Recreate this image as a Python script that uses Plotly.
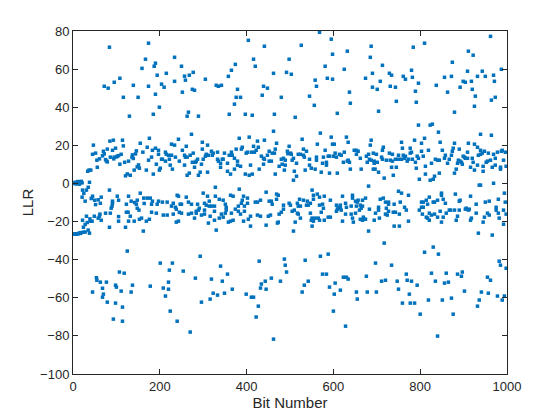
import plotly.graph_objects as go

# (bit number, LLR) readings, grouped by segment of the x-axis
frozen_zero = [(1, 0.0), (3, 0.2), (5, 0.6), (7, -0.3), (9, 0.5), (11, 1.0), (13, 0.0),
               (15, -0.4), (17, 0.8), (19, 1.1), (21, 0.3), (38, 0.6)]
frozen_neg = [(1, -26.6), (3, -26.6), (5, -26.5), (7, -26.6), (9, -26.5), (11, -26.4),
              (13, -26.3), (15, -26.0), (17, -26.2), (19, -25.8), (24, -25.6), (28, -25.5)]

seg1 = [(84, 71.5), (159, 60.4), (139, 51.5), (108, 55.2), (95, 53.1), (72, 51.0), (81, 50.0),
        (116, 45.2), (150, 45.2), (130, 35.3),
        (85, 22.2), (93, 22.7), (114, 22.7), (47, 20.1), (155, 21.1), (116, 19.7), (98, 18.5),
        (79, 18.0), (70, 16.9), (91, 17.4), (52, 15.9), (45, 15.3), (72, 15.5), (111, 15.3),
        (105, 14.6), (137, 15.0), (144, 15.5), (161, 16.4), (146, 17.1), (68, 14.5), (86, 13.8),
        (100, 13.9), (102, 14.3), (95, 13.8), (61, 12.9), (55, 12.2), (75, 12.5), (79, 11.3),
        (77, 11.8), (94, 12.9), (136, 13.8), (139, 13.1), (128, 11.7), (119, 11.1), (108, 10.1),
        (56, 8.5), (148, 8.7), (151, 9.7), (153, 8.0), (141, 7.0), (34, 6.4), (37, 7.0), (41, 7.0),
        (121, 4.0), (125, 5.0), (132, 4.3),
        (22, -3.5), (84, -3.5), (35, -2.0), (31, -3.5), (25, -5.2), (21, -7.2), (28, -9.3),
        (45, -6.7), (42, -7.9), (65, -7.2), (58, -8.6), (50, -8.8), (63, -10.4), (52, -11.1),
        (102, -6.7), (128, -6.7), (155, -5.1), (163, -7.7), (105, -8.8), (91, -9.3), (134, -9.3),
        (142, -10.0), (148, -8.8), (91, -10.5), (123, -10.9), (146, -10.9), (164, -10.5),
        (90, -11.9), (88, -13.0), (148, -13.0), (152, -14.0), (127, -15.1), (123, -15.1),
        (62, -16.1), (75, -15.6), (86, -15.6), (31, -17.2), (49, -17.2), (61, -17.2), (105, -17.4),
        (132, -17.2), (39, -18.6), (44, -19.8), (40, -19.8), (58, -18.2), (65, -19.3), (22, -19.3),
        (105, -19.8), (128, -19.8), (141, -19.8), (153, -18.8), (158, -18.2), (33, -20.5),
        (28, -21.5), (24, -23.0), (84, -23.0), (121, -23.0), (35, -24.5), (162, -25.0),
        (38, -26.1), (125, -35.5),
        (107, -46.5), (118, -47.1), (54, -49.5), (55, -50.8), (63, -51.8), (77, -51.8),
        (98, -53.4), (100, -54.4), (137, -53.4), (68, -55.0), (111, -56.5), (134, -57.0),
        (45, -57.0), (70, -58.1), (68, -59.7), (79, -62.3), (98, -62.8), (114, -64.9),
        (93, -71.2), (114, -72.3)]

seg2 = [(174, 73.6), (167, 65.2), (234, 66.2), (187, 61.5), (190, 63.1), (250, 61.5), (194, 56.8),
        (215, 57.8), (268, 56.8), (257, 56.3), (277, 58.3), (259, 54.2), (234, 53.6), (204, 52.1),
        (210, 50.5), (174, 51.0), (305, 54.7), (275, 49.4), (280, 48.9), (252, 47.9), (190, 46.8),
        (330, 51.5), (335, 51.0), (342, 51.5), (199, 40.0), (185, 36.3), (266, 37.4), (263, 35.3),
        (289, 35.3),
        (273, 25.8), (176, 23.7), (243, 23.2), (298, 21.6), (227, 20.6), (234, 20.1), (310, 20.1),
        (261, 19.5), (171, 19.0), (190, 18.5), (183, 17.4), (197, 17.4), (213, 16.4), (298, 18.0),
        (252, 17.4), (319, 16.9), (333, 16.4), (323, 15.9), (197, 15.3), (215, 15.3), (220, 14.8),
        (227, 14.8), (257, 14.8), (270, 14.8), (277, 15.9), (307, 15.3), (312, 14.8), (321, 14.8),
        (181, 13.8), (236, 13.8), (259, 13.8), (263, 13.8), (305, 14.3), (174, 12.2), (204, 12.7),
        (206, 12.7), (222, 12.7), (245, 11.7), (287, 12.7), (300, 12.7), (333, 12.7), (344, 12.7),
        (213, 11.7), (275, 11.1), (282, 11.1), (284, 11.7), (335, 11.7), (340, 10.6), (192, 10.1),
        (257, 9.6), (224, 9.6), (296, 10.1), (169, 7.0), (201, 8.0), (199, 7.0), (229, 7.5),
        (280, 8.5), (340, 8.5), (310, 5.9), (185, 4.9), (268, 5.4), (263, 4.3), (289, 4.3),
        (293, 5.9),
        (328, -2.0), (300, -5.1), (240, -6.2), (243, -6.7), (310, -6.7), (328, -6.7), (261, -7.2),
        (171, -7.7), (178, -7.7), (337, -8.3), (183, -9.3), (197, -9.3), (206, -9.8), (217, -9.8),
        (231, -10.4), (266, -9.8), (314, -9.3), (303, -10.4), (194, -10.9), (181, -10.9),
        (247, -10.9), (250, -10.9), (273, -10.9), (287, -10.9), (307, -11.4), (227, -11.9),
        (236, -12.5), (238, -13.5), (291, -13.0), (289, -14.0), (284, -14.6), (303, -14.0),
        (314, -11.9), (319, -11.9), (326, -11.9), (326, -14.6), (342, -16.1), (181, -15.1),
        (192, -15.6), (245, -15.1), (250, -15.6), (266, -16.1), (273, -15.6), (284, -15.6),
        (296, -16.6), (303, -16.1), (316, -17.2), (337, -18.2), (208, -16.6), (217, -16.6),
        (231, -16.1), (280, -18.2), (176, -18.8), (169, -19.8), (243, -19.8), (238, -20.3),
        (326, -19.3), (312, -20.8), (330, -24.5),
        (293, -38.2), (201, -41.8), (229, -41.8), (222, -45.5), (254, -46.0), (340, -43.4),
        (282, -49.7), (319, -50.2), (344, -51.3), (220, -51.8), (178, -53.9), (208, -54.9),
        (220, -55.5), (323, -57.6), (333, -58.6), (213, -59.1), (316, -60.7), (296, -62.3),
        (224, -67.0), (240, -72.3), (270, -78.0)]

seg3 = [(404, 75.1), (441, 72.0), (416, 65.2), (498, 65.2), (374, 62.5), (420, 61.5), (365, 59.4),
        (358, 56.2), (462, 57.8), (492, 58.3), (503, 57.3), (439, 51.0), (448, 50.0), (379, 49.4),
        (436, 46.3), (376, 45.2), (386, 45.2), (480, 45.2), (372, 41.6), (360, 36.3), (397, 36.3),
        (413, 35.8), (464, 36.3), (512, 34.7),
        (462, 27.4), (383, 23.7), (406, 24.3), (441, 22.7), (425, 22.2), (469, 21.1), (416, 19.5),
        (427, 19.0), (390, 19.0), (498, 19.5), (376, 18.0), (388, 18.0), (422, 17.4), (452, 16.9),
        (466, 18.0), (494, 16.9), (349, 15.9), (365, 16.4), (360, 14.8), (367, 14.8), (399, 15.9),
        (402, 16.4), (411, 16.4), (418, 16.4), (434, 14.3), (448, 14.8), (459, 15.9), (464, 15.9),
        (501, 15.9), (503, 15.3), (495, 15.6), (519, 15.3), (346, 12.7), (372, 13.2), (379, 11.7),
        (439, 13.2), (441, 12.7), (452, 11.7), (457, 11.7), (480, 12.7), (485, 13.2), (489, 12.2),
        (505, 12.2), (508, 13.2), (356, 10.6), (379, 9.6), (386, 9.0), (409, 9.6), (439, 10.1),
        (475, 9.0), (482, 10.1), (489, 9.6), (515, 10.6), (372, 7.5), (429, 7.5), (487, 7.0),
        (356, 6.4), (363, 4.9), (397, 4.9), (406, 4.3), (413, 4.9), (466, 4.9), (510, 6.4),
        (515, 3.8), (508, 1.7),
        (383, -3.0), (445, -4.6), (469, -5.6), (473, -6.2), (363, -6.2), (369, -6.7), (393, -6.7),
        (402, -7.7), (390, -8.8), (346, -8.8), (469, -8.3), (522, -8.3), (420, -9.8), (425, -9.8),
        (432, -8.8), (452, -9.3), (457, -9.3), (402, -10.4), (388, -10.4), (351, -10.9),
        (459, -10.9), (498, -10.4), (501, -11.4), (485, -11.4), (517, -10.4), (519, -11.9),
        (353, -12.5), (381, -11.9), (395, -11.9), (374, -13.5), (485, -13.5), (353, -14.0),
        (381, -14.6), (395, -14.6), (505, -14.6), (510, -14.0), (480, -15.1), (351, -15.6),
        (365, -15.6), (386, -16.1), (425, -16.6), (432, -17.2), (450, -17.2), (455, -16.6),
        (475, -16.1), (517, -15.6), (519, -16.1), (346, -17.7), (409, -17.2), (404, -18.8),
        (369, -19.3), (363, -19.8), (358, -20.3), (393, -19.8), (473, -20.3), (471, -20.8),
        (512, -20.3), (409, -22.4), (445, -21.9), (508, -25.0),
        (429, -40.8), (487, -39.7), (489, -42.9), (492, -46.5), (356, -47.6), (457, -49.7),
        (478, -51.3), (443, -51.3), (434, -52.8), (432, -54.9), (445, -55.5), (367, -55.5),
        (349, -57.6), (399, -58.1), (411, -59.7), (416, -59.7), (427, -64.4), (422, -70.1),
        (462, -81.7)]

seg4 = [(568, 79.3), (595, 75.7), (526, 72.5), (687, 72.0), (598, 67.8), (632, 69.4), (685, 66.2),
        (581, 61.5), (625, 59.9), (690, 57.8), (674, 55.2), (586, 55.2), (598, 54.7), (558, 54.2),
        (561, 51.0), (690, 50.5), (637, 47.9), (545, 45.8), (639, 42.1), (556, 41.0), (609, 36.8),
        (570, 26.4), (595, 24.3), (630, 24.3), (528, 23.2), (634, 21.6), (687, 22.7), (598, 20.6),
        (602, 20.6), (563, 20.6), (685, 20.1), (531, 18.0), (538, 16.9), (581, 17.4), (648, 17.4),
        (653, 17.4), (657, 16.9), (653, 15.3), (625, 16.4), (604, 15.9), (614, 15.3), (618, 14.8),
        (681, 15.3), (692, 15.9), (699, 15.3), (524, 15.3), (533, 13.8), (531, 14.8), (545, 12.7),
        (561, 13.8), (561, 12.2), (577, 13.8), (588, 14.3), (591, 14.3), (600, 14.3), (607, 13.8),
        (634, 12.2), (637, 11.1), (623, 11.1), (632, 11.7), (662, 13.2), (676, 14.3), (683, 12.7),
        (687, 12.2), (678, 11.1), (694, 11.7), (694, 10.6), (575, 10.6), (584, 11.1), (584, 9.6),
        (545, 9.6), (549, 8.0), (558, 7.5), (535, 7.0), (639, 7.5), (664, 7.5), (692, 7.5),
        (696, 7.5), (572, 5.9), (591, 5.4), (609, 5.4), (681, -1.4),
        (551, -3.5), (563, -5.6), (568, -7.2), (554, -6.2), (579, -6.7), (621, -6.7), (644, -6.2),
        (644, -7.7), (674, -7.7), (554, -8.3), (593, -8.8), (657, -8.8), (667, -8.8), (651, -9.3),
        (531, -8.8), (540, -9.3), (547, -10.4), (538, -11.4), (542, -11.4), (524, -11.9),
        (568, -11.4), (575, -10.9), (607, -11.4), (616, -11.4), (628, -10.4), (655, -9.8),
        (662, -11.4), (641, -11.9), (653, -11.9), (667, -11.9), (611, -12.5), (616, -13.0),
        (577, -13.0), (609, -13.5), (618, -14.0), (630, -12.5), (664, -13.0), (683, -13.5),
        (572, -15.1), (547, -15.6), (607, -14.6), (628, -16.1), (641, -16.1), (651, -15.6),
        (660, -14.0), (697, -15.6), (524, -18.2), (551, -18.2), (558, -18.2), (565, -18.2),
        (588, -17.7), (593, -17.7), (549, -19.3), (554, -19.8), (568, -19.3), (579, -19.3),
        (621, -19.8), (644, -18.2), (646, -20.3), (662, -18.8), (667, -19.3), (669, -17.7),
        (671, -18.8), (674, -18.8), (694, -19.3), (551, -22.4), (681, -25.0),
        (570, -38.2), (588, -37.1), (535, -40.3), (697, -41.8), (575, -47.6), (584, -47.6),
        (623, -49.2), (630, -49.2), (634, -50.2), (676, -48.7), (542, -51.3), (604, -52.3),
        (533, -53.4), (591, -54.4), (616, -56.0), (528, -57.0), (653, -57.0), (678, -57.0),
        (699, -57.0), (602, -58.1), (655, -60.7), (600, -67.0), (628, -74.9)]

seg5 = [(810, 73.6), (784, 71.5), (874, 63.6), (713, 62.0), (780, 59.4), (729, 57.8), (734, 56.8),
        (761, 56.2), (766, 54.7), (782, 55.7), (856, 55.7), (872, 56.2), (708, 53.6), (796, 52.6),
        (731, 51.0), (743, 50.5), (837, 51.5), (701, 49.4), (789, 48.4), (863, 47.9), (745, 43.1),
        (791, 42.6), (704, 37.9), (879, 37.4), (796, 30.6), (823, 30.6), (828, 31.1), (842, 26.9),
        (810, 23.7), (757, 21.6), (846, 21.6), (803, 21.1), (879, 21.1), (715, 19.0), (787, 22.7),
        (876, 18.5), (713, 17.4), (759, 18.5), (777, 18.5), (819, 17.4), (851, 17.4), (874, 16.9),
        (729, 15.9), (736, 15.3), (750, 14.8), (761, 14.8), (766, 14.3), (780, 16.4), (777, 15.9),
        (803, 16.9), (807, 14.3), (793, 14.3), (858, 14.8), (872, 14.8), (711, 13.8), (713, 12.7),
        (722, 12.2), (731, 12.2), (736, 11.7), (743, 12.7), (750, 12.7), (757, 12.7), (764, 13.2),
        (770, 11.7), (773, 12.7), (782, 12.7), (796, 13.2), (789, 11.1), (835, 12.7), (840, 12.2),
        (844, 12.2), (856, 13.2), (863, 10.6), (867, 12.7), (701, 11.1), (826, 10.6), (734, 8.5),
        (745, 8.5), (812, 9.0), (791, 8.0), (833, 3.8), (704, 5.9), (738, 4.3), (812, 4.9),
        (844, 5.4), (879, 5.4), (798, 2.2), (823, 1.7), (830, 2.2), (717, 2.8),
        (750, -4.1), (757, -5.1), (773, -6.2), (849, -5.1), (849, -6.2), (821, -7.2), (715, -7.7),
        (708, -8.3), (853, -8.3), (814, -8.8), (840, -8.8), (720, -9.8), (727, -9.8), (727, -10.9),
        (803, -9.8), (807, -9.8), (830, -9.8), (833, -9.8), (858, -10.4), (740, -10.9), (754, -9.8),
        (817, -10.9), (704, -12.5), (722, -13.0), (803, -12.5), (807, -12.5), (798, -14.0),
        (764, -12.5), (768, -14.0), (846, -14.6), (867, -14.0), (870, -14.0), (704, -14.0),
        (727, -14.6), (738, -15.1), (743, -15.1), (752, -16.1), (720, -16.1), (724, -16.6),
        (821, -15.6), (826, -16.6), (833, -16.1), (860, -15.6), (805, -16.1), (814, -17.7),
        (817, -18.2), (821, -19.3), (840, -17.7), (853, -17.7), (706, -18.2), (773, -19.8),
        (849, -20.3), (740, -22.4), (752, -22.4), (717, -31.3),
        (830, -33.4), (810, -36.1), (842, -37.1), (734, -42.9), (768, -47.6), (826, -47.1),
        (860, -47.1), (711, -51.3), (720, -50.8), (747, -51.3), (770, -50.8), (780, -51.3),
        (835, -51.3), (856, -52.3), (865, -51.8), (793, -53.4), (750, -55.5), (775, -58.1),
        (872, -60.2), (819, -61.2), (851, -61.2), (759, -62.8), (777, -62.8), (787, -62.8),
        (876, -68.6), (800, -68.6), (840, -80.1)]

seg6 = [(962, 77.2), (911, 69.4), (922, 67.3), (987, 59.9), (909, 58.9), (943, 58.9), (932, 56.2),
        (950, 56.2), (969, 56.8), (899, 53.6), (904, 53.1), (918, 53.6), (971, 53.6), (892, 50.5),
        (920, 49.4), (927, 45.8), (973, 45.2), (964, 43.7), (925, 40.5), (939, 25.8), (964, 25.3),
        (911, 21.1), (925, 20.6), (932, 19.0), (890, 18.0), (939, 17.4), (948, 16.9), (957, 15.9),
        (969, 15.3), (978, 16.4), (987, 16.9), (989, 17.4), (996, 16.4), (909, 16.4), (943, 15.9),
        (934, 14.8), (939, 15.3), (899, 14.3), (904, 13.2), (909, 13.2), (920, 13.2), (902, 13.8),
        (952, 11.1), (955, 11.7), (962, 12.2), (973, 13.2), (992, 12.2), (888, 12.2), (892, 11.7),
        (895, 11.1), (897, 10.1), (922, 11.1), (886, 10.6), (932, 9.6), (916, 8.5), (925, 7.0),
        (945, 9.0), (966, 8.5), (973, 9.6), (985, 8.5), (985, 7.5), (998, 9.0), (883, 7.5),
        (945, 6.4), (936, -0.9), (939, -0.9), (969, 0.1),
        (994, -5.1), (881, -5.6), (916, -6.7), (980, -8.3), (890, -9.3), (892, -8.8), (959, -9.3),
        (996, -9.8), (950, -9.8), (929, -10.9), (879, -14.0), (890, -14.0), (904, -13.5),
        (906, -13.0), (911, -14.0), (913, -13.5), (929, -15.6), (955, -15.6), (959, -16.6),
        (975, -12.5), (975, -14.0), (980, -15.6), (992, -14.0), (998, -16.1), (886, -17.2),
        (918, -18.2), (916, -19.3), (948, -17.7), (982, -18.2), (992, -21.4), (883, -19.3),
        (945, -20.3), (934, -26.1), (966, -27.1),
        (982, -40.8), (985, -42.9), (998, -44.5), (886, -47.6), (897, -46.5), (895, -48.7),
        (955, -49.2), (962, -50.8), (902, -56.5), (941, -57.0), (957, -57.6), (936, -61.2),
        (978, -59.1), (989, -61.2), (994, -59.1), (932, -64.4)]

x_ticks = [0, 200, 400, 600, 800, 1000]
y_ticks = [-100, -80, -60, -40, -20, 0, 20, 40, 60, 80]

points = frozen_zero + frozen_neg + seg1 + seg2 + seg3 + seg4 + seg5 + seg6
bit_number = [p[0] for p in points]
llr = [p[1] for p in points]

axis_color = "#262626"
font_family = "Liberation Sans, Arial, sans-serif"

fig = go.Figure(go.Scatter(
    x=bit_number, y=llr, mode="markers",
    marker=dict(symbol="square", size=3.5, color="#0072BD", line=dict(width=0)),
    showlegend=False,
))

axis_common = dict(
    showline=True, linecolor=axis_color, linewidth=1, mirror="ticks",
    ticks="inside", ticklen=5, tickwidth=1, tickcolor=axis_color,
    showgrid=False, zeroline=False,
    tickfont=dict(family=font_family, size=13, color=axis_color),
    title_font=dict(family=font_family, size=15, color=axis_color),
)

fig.update_xaxes(range=[0, 1000], tickvals=x_ticks, title_text="Bit Number",
                 title_standoff=2, **axis_common)
fig.update_yaxes(range=[-100, 80], tickvals=y_ticks, title_text="LLR",
                 title_standoff=2, **axis_common)

fig.update_layout(
    width=560, height=420,
    margin=dict(l=65, r=61, t=23, b=54, autoexpand=False),
    paper_bgcolor="white", plot_bgcolor="white",
    font=dict(family=font_family, color=axis_color),
)

fig.write_html("out.html")
